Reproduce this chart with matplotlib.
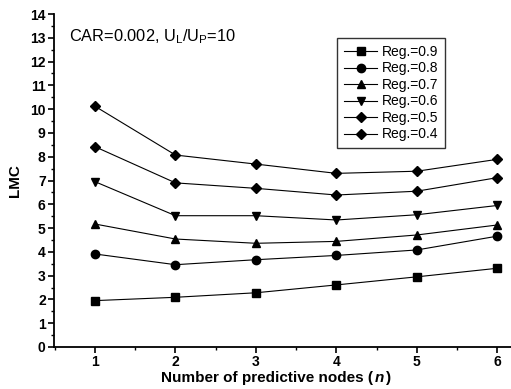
import matplotlib
matplotlib.use("Agg")
import matplotlib.pyplot as plt
from matplotlib.ticker import MultipleLocator
from matplotlib.offsetbox import TextArea, HPacker, AnchoredOffsetbox

plt.rcParams['font.family'] = ['Liberation Sans', 'DejaVu Sans']
plt.rcParams['font.weight'] = 'bold'

# data
nodes = [1, 2, 3, 4, 5, 6]
reg_labels = ['Reg.=0.9', 'Reg.=0.8', 'Reg.=0.7', 'Reg.=0.6', 'Reg.=0.5', 'Reg.=0.4']
reg09 = [1.95, 2.09, 2.28, 2.61, 2.95, 3.31]
reg08 = [3.91, 3.46, 3.67, 3.85, 4.08, 4.66]
reg07 = [5.17, 4.54, 4.36, 4.44, 4.71, 5.13]
reg06 = [6.95, 5.52, 5.52, 5.34, 5.56, 5.95]
reg05 = [8.42, 6.90, 6.67, 6.39, 6.55, 7.12]
reg04 = [10.12, 8.07, 7.69, 7.30, 7.39, 7.89]
series = [reg09, reg08, reg07, reg06, reg05, reg04]
markers = ['s', 'o', '^', 'v', 'D', 'D']

fig = plt.figure(figsize=(5.11, 3.89), dpi=100)
ax = fig.add_axes([54 / 511, 42 / 389, 457 / 511, 333 / 389])

for vals, mk, lab in zip(series, markers, reg_labels):
    ms = 5.5 if mk == 'D' else 6
    ax.plot(nodes, vals, color='black', lw=0.8, marker=mk, ms=ms,
            markerfacecolor='black', label=lab)

ax.set_xlim(0.49, 6.17)
ax.set_ylim(0, 14)
ax.xaxis.set_major_locator(MultipleLocator(1))
ax.xaxis.set_minor_locator(MultipleLocator(0.5))
ax.yaxis.set_major_locator(MultipleLocator(1))
ax.yaxis.set_minor_locator(MultipleLocator(0.5))
ax.tick_params(which='major', direction='out', length=4, width=1.2, labelsize=10, pad=2)
ax.tick_params(which='minor', direction='out', length=2, width=1)

ax.spines['top'].set_visible(False)
ax.spines['right'].set_visible(False)
ax.spines['left'].set_linewidth(1.3)
ax.spines['bottom'].set_linewidth(1.3)

ax.set_ylabel('LMC', fontsize=11, fontweight='bold', labelpad=6)

# x label with italic n
lab_props = dict(fontsize=11, fontweight='bold')
xl = HPacker(children=[TextArea('Number of predictive nodes (', textprops=lab_props),
                       TextArea('n', textprops=dict(lab_props, style='italic')),
                       TextArea(')', textprops=lab_props)],
             align='baseline', pad=0, sep=1)
box = AnchoredOffsetbox(loc='center', child=xl, frameon=False, pad=0,
                        bbox_to_anchor=(276 / 511, 11 / 389),
                        bbox_transform=fig.transFigure, borderpad=0)
fig.add_artist(box)

ax.text(0.68, 13.05, r'CAR=0.002, U$_\mathregular{L}$/U$_\mathregular{P}$=10',
        fontsize=11.8, fontweight='normal', va='center')

leg = ax.legend(loc='upper left', bbox_to_anchor=(283 / 457, (333 - 24) / 333),
                prop=dict(size=10, weight='normal'), frameon=True, fancybox=False,
                edgecolor='black', handlelength=2.4, handletextpad=0.3,
                labelspacing=0.18, borderpad=0.5, borderaxespad=0)
leg.get_frame().set_linewidth(1.0)

fig.savefig('out.png', dpi=100)
